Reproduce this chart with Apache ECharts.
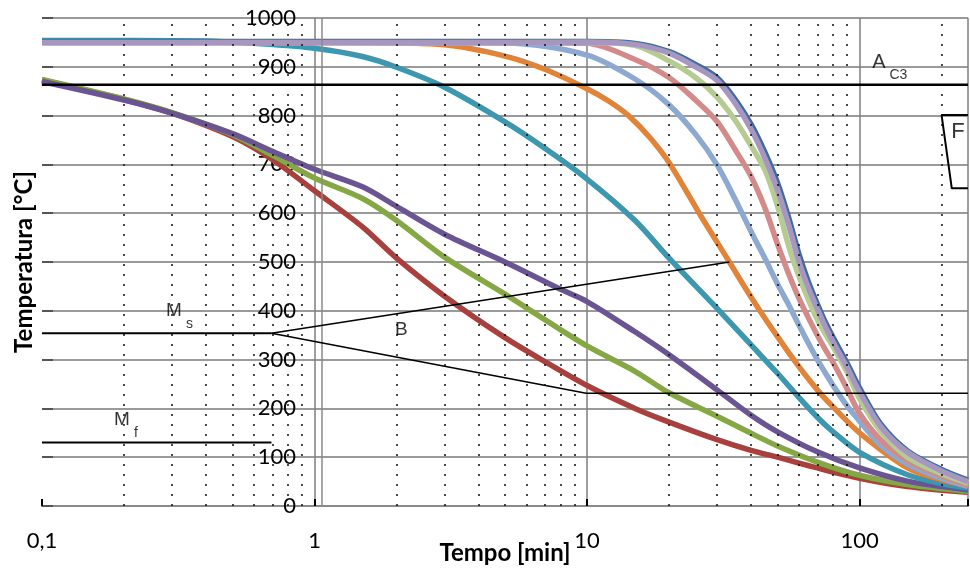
<!DOCTYPE html>
<html><head><meta charset="utf-8">
<script src="https://cdn.jsdelivr.net/npm/echarts@6/dist/echarts.min.js"></script>
<style>html,body{margin:0;padding:0;background:#fff}#c{width:970px;height:575px}</style>
</head><body><div id="c"></div>
<script>
// ---- cooling curves: [time (min), temperature (°C)] ----
const RED = [[0.1,873],[0.2,833],[0.3,805],[0.5,757],[0.7,710],[1,646],[1.5,572],[2,508],[3,430],[5,345],[7,296],[10,247],[15,200],[20,172],[30,136],[40,114],[50,100],[70,78],[100,57],[150,40],[250,28]];
const GREEN = [[0.1,874],[0.2,834],[0.3,806],[0.5,761],[0.7,719],[1,672],[1.5,630],[2,585],[3,510],[5,434],[7,382],[10,328],[15,276],[20,232],[30,184],[40,149],[50,123],[70,90],[100,63],[150,44],[250,30]];
const PURPLE = [[0.1,870],[0.2,832],[0.3,805],[0.5,763],[0.7,727],[1,690],[1.5,654],[2,614],[3,557],[5,500],[8,444],[10,419],[15,357],[20,310],[30,238],[40,186],[50,152],[70,111],[100,78],[150,51],[250,33]];
const TEAL = [[0.1,954],[0.4,953],[0.6,948],[1,938],[1.5,921],[2,899],[3,858],[5,787],[7,733],[10,670],[15,585],[20,508],[30,405],[40,330],[50,272],[60,222],[70,182],[80,152],[100,110],[150,64],[200,46],[250,37]];
const ORANGE = [[0.1,950],[1.5,950],[3,945],[5,922],[7,895],[10,855],[12,830],[14.2,800],[17,755],[20.2,700],[25.8,600],[33.3,500],[40,428],[50,347],[60,285],[70,238],[80,203],[100,150],[150,78],[200,54],[250,42]];

// slow curves share one time grid
const LATE_TIMES  = [0.1,5,10,15,20,25,30,35,40,45,50,55,60,65,70,75,80,90,100,120,150,200,250];
const LIGHTBLUE   = [950,949,924,875,822,762,699,628,562,507,455,412,370,333,300,272,247,205,174,124,86,57,40];
const PINK        = [950,950,948,915,878,832,788,730,675,610,537,475,425,385,350,320,294,240,190,135,94,62,43];
const LIGHTGREEN  = [950,950,950,944,912,878,838,790,738,688,615,532,470,422,382,352,326,274,220,152,100,66,47];
const BLUE        = [952,952,952,948,931,905,878,833,782,724,662,590,515,458,414,376,345,293,242,167,113,75,53];
const LIGHTPURPLE = [950,950,951,946,928,900,872,825,772,712,648,575,500,446,404,367,336,284,234,162,110,72,50];

// CCT diagram boundaries
const AC3     = [[0.1,863],[250,863]];
const MS      = [[0.1,354],[0.695,354]];
const MF      = [[0.1,130],[0.695,130]];
const B_UPPER = [[0.695,354],[33.3,500]];
const B_LOWER = [[0.695,354],[9.93,231],[250,231]];
const F_ZONE  = [[250,801],[200,801],[218,651],[250,651]];

// minor log grid positions
const MINOR_X = [0.2,0.3,0.4,0.5,0.6,0.7,0.8,0.9,2,3,4,5,6,7,8,9,20,30,40,50,60,70,80,90,200];
const EXTRA_X = [1.065];

// annotations
const ANNOT_TEXT = ['A','C3','F','M','s','M','f','B'];
const ANNOT_TIME = [117.8,138.9,229.6,0.305,0.3475,0.1965,0.2213,2.081];
const ANNOT_TEMP = [908.8,883.2,767.4,399.6,373,176.2,149.6,360.7];
const ANNOT_SIZE = [20,14,22,19,14,19,14,19];

const chart = echarts.init(document.getElementById('c'), null, {renderer:'canvas'});
const late = arr => LATE_TIMES.map((t,i)=>[t,arr[i]]);
const isPow10 = v => Math.abs(Math.log10(v) - Math.round(Math.log10(v))) < 1e-6;
const fmtX = v => { if(!isPow10(v)) return ''; const e = Math.round(Math.log10(v)); return e < 0 ? '0,1' : String(Math.pow(10,e)); };

const curves = [
  ['red', RED, '#A8413E'],
  ['green', GREEN, '#86A844'],
  ['purple', PURPLE, '#6A5492'],
  ['teal', TEAL, '#3C97AF'],
  ['orange', ORANGE, '#E0843A'],
  ['lightblue', late(LIGHTBLUE), '#8EA9D0'],
  ['pink', late(PINK), '#D28B89'],
  ['lightgreen', late(LIGHTGREEN), '#B5CB91'],
  ['blue', late(BLUE), '#3F6AA3'],
  ['lightpurple', late(LIGHTPURPLE), '#A796BD']
];

const blackLine = (name, data, w) => ({
  name, type:'line', data, symbol:'none', silent:true, z:6,
  lineStyle:{color:'#000', width:w}, emphasis:{disabled:true}
});

const series = [
  { name:'grid-minor', type:'line', data:[[0.1,0],[250,0]], symbol:'none', silent:true, z:1,
    lineStyle:{opacity:0},
    markLine:{ silent:true, symbol:'none', label:{show:false},
      lineStyle:{color:'#111', type:[2,8], width:1.5},
      data: MINOR_X.map(v=>({xAxis:v})) } },
  { name:'grid-extra', type:'line', data:[[0.1,0],[250,0]], symbol:'none', silent:true, z:1,
    lineStyle:{opacity:0},
    markLine:{ silent:true, symbol:'none', label:{show:false},
      lineStyle:{color:'#8a8a8a', type:'solid', width:1.5},
      data: EXTRA_X.map(v=>({xAxis:v})) } },
  blackLine('Ac3', AC3, 2.5),
  blackLine('Ms', MS, 2),
  blackLine('Mf', MF, 2),
  blackLine('B-upper', B_UPPER, 1.6),
  blackLine('B-lower', B_LOWER, 1.6),
  blackLine('F', F_ZONE, 2)
];
curves.forEach(([n, arr, c]) => series.push({
  name:n, type:'line', data:arr, symbol:'none', smooth:0.3,
  silent:true, z:4, lineStyle:{color:c, width:5.5}, emphasis:{disabled:true}
}));
series.push({
  name:'labels', type:'scatter', symbolSize:0, silent:true, z:10,
  data: ANNOT_TEXT.map((s,i)=>({ value:[ANNOT_TIME[i], ANNOT_TEMP[i]], name:s,
    label:{ show:true, position:'inside', formatter:s, fontSize:ANNOT_SIZE[i],
      fontFamily:'Liberation Sans', color:'#000' } }))
});

chart.setOption({
  animation:false,
  grid:{left:42, right:2, top:18, bottom:69, containLabel:false, outerBoundsMode:'none'},
  xAxis:{ type:'log', logBase:10, min:0.1, max:250,
    axisLine:{show:true, lineStyle:{color:'#8a8a8a', width:2}},
    axisTick:{show:true, inside:true, length:7, lineStyle:{color:'#000', width:2}},
    axisLabel:{fontFamily:'Lato', fontSize:22, color:'#000', margin:24, formatter:fmtX},
    splitLine:{show:true, showMinLine:false, lineStyle:{color:'#7f7f7f', width:1.5}},
    name:'Tempo [min]', nameLocation:'middle', nameGap:35, nameMoveOverlap:false,
    nameTextStyle:{fontFamily:'Lato', fontWeight:'bold', fontSize:24, color:'#000'} },
  yAxis:[
    { type:'value', min:0, max:1000, interval:100, position:'left', offset:-272,
      axisLine:{show:false}, axisTick:{show:false},
      axisLabel:{fontFamily:'Lato', fontSize:22, color:'#000', margin:18, formatter: v => String(v)},
      splitLine:{show:true, lineStyle:{color:'#9a9a9a', width:2}} },
    { type:'value', min:0, max:1000, interval:100, position:'left', offset:0,
      axisLine:{show:false}, axisLabel:{show:false}, splitLine:{show:false},
      axisTick:{show:true, inside:true, length:11, lineStyle:{color:'#555', width:2}},
      name:'Temperatura [°C]', nameLocation:'middle', nameGap:6, nameRotate:90, nameMoveOverlap:false,
      nameTextStyle:{fontFamily:'Lato', fontWeight:'bold', fontSize:24, color:'#000'} }
  ],
  series
});
</script></body></html>
